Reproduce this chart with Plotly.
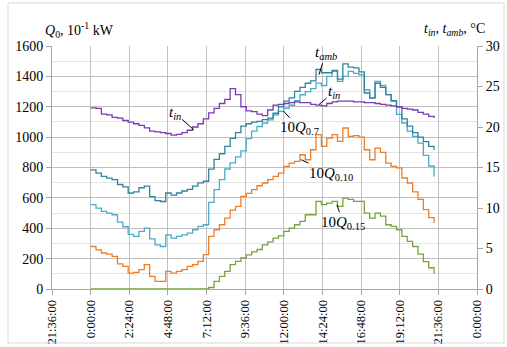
import plotly.graph_objects as go

# time in hours, 20-minute steps from 0:00 to 21:20
step_h = 1/3
n_pts = 65
hours = [round(i * step_h, 4) for i in range(n_pts)]

# tick positions / labels (hours)
tick_hours = [-2.4, 0, 2.4, 4.8, 7.2, 9.6, 12.0, 14.4, 16.8, 19.2, 21.6, 24.0]
tick_labels = ["21:36:00", "0:00:00", "2:24:00", "4:48:00", "7:12:00", "9:36:00",
               "12:00:00", "14:24:00", "16:48:00", "19:12:00", "21:36:00", "0:00:00"]

# indoor temperature t_in, degC (right axis)
t_in = [22.35, 22.3, 21.6, 21.5, 21.2, 21.1, 20.8, 20.6, 20.4, 20.2, 19.9, 19.5, 19.4,
        19.3, 19.2, 19.0, 19.1, 19.3, 19.6, 20.0, 20.4, 21.0, 21.75, 22.3, 22.9, 23.4,
        24.75, 24.0, 22.5, 22.0, 21.9, 21.6, 21.4, 22.1, 22.7, 22.8, 22.9, 23.0, 23.1,
        23.0, 23.0, 22.8, 22.7, 22.6, 22.9, 23.1, 23.2, 23.2, 23.2, 23.1, 23.1, 23.0,
        23.0, 22.9, 22.8, 22.7, 22.6, 22.5, 22.3, 22.2, 22.1, 21.8, 21.6, 21.3, 21.1]

# ambient temperature t_amb, degC (right axis)
t_amb = [14.7, 14.3, 13.9, 13.7, 13.5, 12.9, 12.6, 11.85, 12.0, 12.5, 12.7, 11.4, 10.9,
         10.8, 11.85, 11.6, 11.85, 12.1, 12.3, 12.7, 13.1, 13.3, 14.8, 16.0, 16.7, 17.6,
         18.6, 19.3, 20.1, 20.4, 20.6, 20.7, 20.9, 21.1, 21.7, 22.5, 23.2, 23.6, 24.4,
         24.9, 25.4, 25.7, 27.1, 26.7, 26.7, 27.0, 25.9, 27.8, 27.4, 27.3, 26.8, 24.2,
         23.6, 25.4, 24.9, 24.0, 23.25, 22.5, 21.0, 20.1, 19.3, 18.75, 18.2, 17.6, 17.2]

# 10*Q_0.7, 10^-1 kW (left axis)
q07 = [555, 533, 511, 500, 489, 440, 410, 360, 346, 379, 401, 330, 291, 280, 357, 335,
       346, 357, 368, 390, 412, 423, 570, 654, 720, 790, 830, 870, 910, 990, 1040, 1070,
       1093, 1114, 1147, 1170, 1190, 1210, 1240, 1279, 1300, 1320, 1356, 1340, 1400,
       1433, 1367, 1400, 1433, 1420, 1410, 1312, 1257, 1367, 1340, 1280, 1235, 1150,
       1093, 1040, 1005, 961, 880, 810, 741]

# 10*Q_0.10
q010 = [280, 258, 237, 230, 215, 165, 149, 105, 110, 127, 160, 83, 50, 50, 116, 105,
        116, 127, 149, 160, 182, 226, 346, 390, 423, 467, 520, 544, 610, 630, 654, 680,
        698, 720, 741, 763, 807, 829, 840, 884, 851, 917, 1016, 939, 994, 1016, 972,
        1060, 1005, 1010, 1000, 917, 851, 928, 900, 829, 807, 797, 731, 698, 640, 590,
        522, 470, 434]

# 10*Q_0.15
q015 = [0, 0, 0, 0, 0, 0, 0, 0, 0, 0, 0, 0, 0, 0, 0, 0, 0, 0, 0, 0, 0, 0, 10, 50, 83,
        116, 160, 182, 204, 225, 245, 260, 290, 310, 335, 350, 380, 401, 423, 445, 489,
        489, 577, 555, 566, 577, 544, 599, 590, 577, 577, 500, 467, 500, 480, 423, 412,
        390, 346, 313, 280, 230, 180, 140, 100]

C_IN = "#7B39B4"
C_AMB = "#31849B"
C_Q07 = "#4BACC6"
C_Q10 = "#F07C28"
C_Q15 = "#77A33D"

FONT = '"Liberation Serif", "Times New Roman", Times, serif'

fig = go.Figure()

def add(y, color, axis):
    fig.add_trace(go.Scatter(x=hours, y=y, mode="lines", line_shape="hv",
                             line=dict(color=color, width=1.3), yaxis=axis,
                             showlegend=False, hoverinfo="skip"))

add(q015, C_Q15, "y")
add(q010, C_Q10, "y")
add(q07, C_Q07, "y")
add(t_amb, C_AMB, "y2")
add(t_in, C_IN, "y2")

grid = "#bfbfbf"
axline = "#a6a6a6"

fig.update_layout(
    width=507, height=347,
    margin=dict(l=52, r=30, t=46, b=58, autoexpand=False),
    paper_bgcolor="white", plot_bgcolor="white",
    font=dict(family=FONT, color="black", size=14),
    xaxis=dict(range=[-2.4, 24], tickmode="array", tickvals=tick_hours,
               ticktext=tick_labels, tickangle=-90,
               tickfont=dict(family=FONT, size=12.5),
               showgrid=True, gridcolor=grid, gridwidth=1, zeroline=False,
               showline=True, linecolor=axline, ticks="outside", ticklen=5,
               tickcolor=axline, automargin=False),
    yaxis=dict(range=[0, 1600], dtick=200, showgrid=True, gridcolor=grid,
               zeroline=False, showline=True, linecolor=axline, ticks="outside",
               ticklen=5, tickcolor=axline, tickfont=dict(family=FONT, size=14),
               automargin=False,
               minor=dict(dtick=100, showgrid=True, gridcolor="#e3e3e3", ticks="")),
    yaxis2=dict(range=[0, 30], dtick=5, overlaying="y", side="right",
                showgrid=False, zeroline=False, showline=True, linecolor=axline,
                ticks="outside", ticklen=5, tickcolor=axline, automargin=False,
                tickfont=dict(family=FONT, size=14)),
)

# outer frame
fig.add_shape(type="rect", xref="paper", yref="paper",
              x0=-0.1035, x1=1.0635, y0=-0.222, y1=1.177,
              line=dict(color="#d9d9d9", width=1), fillcolor="rgba(0,0,0,0)")

# axis titles
fig.add_annotation(xref="paper", yref="paper", x=-0.022, y=1.066, xanchor="left",
                   yanchor="middle", showarrow=False,
                   text="<i>Q</i><sub>0</sub>, 10<sup>-1</sup> kW",
                   font=dict(family=FONT, size=14))
fig.add_annotation(xref="paper", yref="paper", x=1.024, y=1.066, xanchor="right",
                   yanchor="middle", showarrow=False,
                   text="<i>t<sub>in</sub></i>, <i>t<sub>amb</sub></i>, °C",
                   font=dict(family=FONT, size=14))

def label(text, x, y, ax, ay, yref="y"):
    fig.add_annotation(x=x, y=y, xref="x", yref=yref, text=text, showarrow=True,
                       arrowhead=0, arrowwidth=1, arrowcolor="black", ax=ax, ay=ay,
                       standoff=0, font=dict(family=FONT, size=15))

label("<i>t<sub>amb</sub></i>", 14.18, 1411, 7, -22)
label("<i>t<sub>in</sub></i>", 14.18, 1214, 15, -13)
label("<i>t<sub>in</sub></i>", 6.40, 1049, -19, -17)
label("10<i>Q</i><sub>0.7</sub>", 11.99, 1170, 16, 17)
label("10<i>Q</i><sub>0.10</sub>", 13.06, 852, 30, 14)
label("10<i>Q</i><sub>0.15</sub>", 15.3, 555, 6, 18)

fig.write_html("out.html", config={"displayModeBar": False},
               post_script="document.body.style.margin='0px';")
